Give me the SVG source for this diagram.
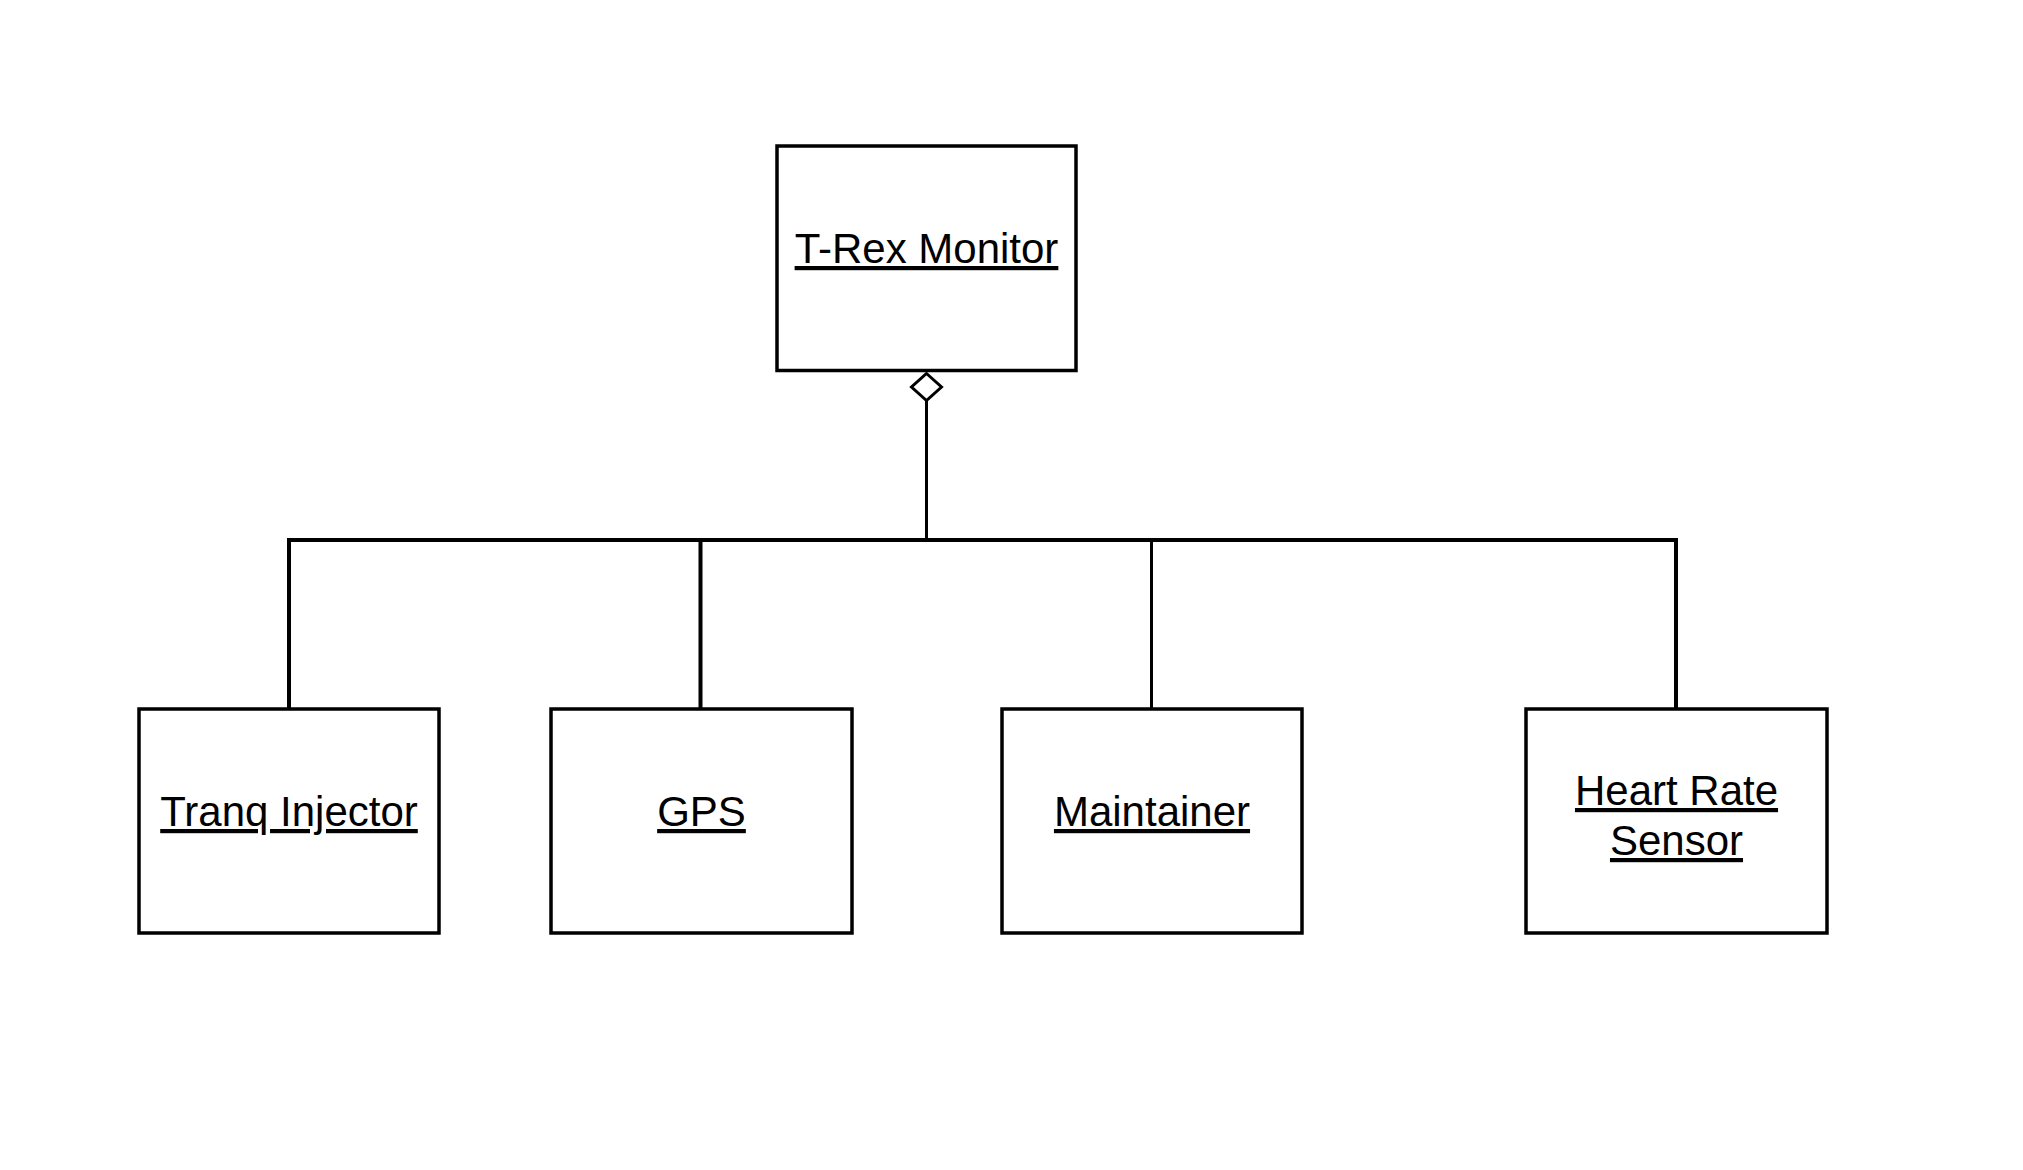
<svg xmlns="http://www.w3.org/2000/svg" width="2023" height="1170" viewBox="0 0 2023 1170">
<style>
.box{fill:#fff;stroke:#000;stroke-width:3.5}
.lbl{font-family:"Liberation Sans",Arial,sans-serif;font-size:42px;text-anchor:middle;text-decoration:underline;fill:#000}
.con{fill:none;stroke:#000;stroke-width:4}
.thin{stroke-width:3}
</style>
<rect width="2023" height="1170" fill="#fff"/>
<g id="connectors">
<path class="con" d="M289 709 V540 H1676 V709"/>
<path class="con" d="M700.5 540 V709"/>
<path class="con thin" d="M1151.5 540 V709"/>
<path class="con thin" d="M926.5 400 V540"/>
<path class="con thin" d="M926.5 373.5 L941.5 387 L926.5 400.5 L911.5 387 Z" fill="#fff"/>
</g>
<g id="trex">
<rect class="box" x="777" y="146" width="299" height="224.5"/>
<text class="lbl" x="926.5" y="263">T-Rex Monitor</text>
</g>
<g id="tranq">
<rect class="box" x="139" y="709" width="300" height="224"/>
<text class="lbl" x="289" y="826">Tranq Injector</text>
</g>
<g id="gps">
<rect class="box" x="551" y="709" width="301" height="224"/>
<text class="lbl" x="701.5" y="826">GPS</text>
</g>
<g id="maintainer">
<rect class="box" x="1002" y="709" width="300" height="224"/>
<text class="lbl" x="1152" y="826">Maintainer</text>
</g>
<g id="heartrate">
<rect class="box" x="1526" y="709" width="301" height="224"/>
<text class="lbl" x="1676.5" y="805">Heart Rate</text>
<text class="lbl" x="1676.5" y="855">Sensor</text>
</g>
</svg>
